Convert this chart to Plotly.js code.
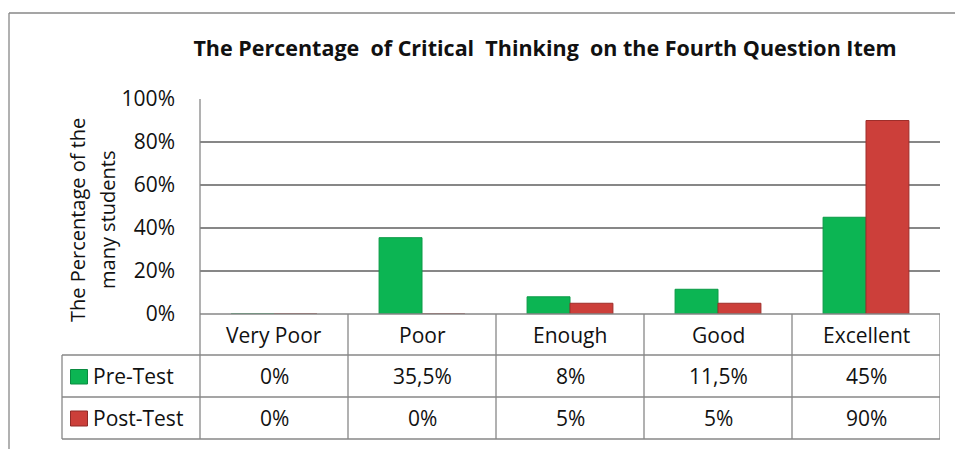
<!DOCTYPE html>
<html><head><meta charset="utf-8">
<script src="https://cdn.plot.ly/plotly-3.0.1.min.js"></script>
<style>body{margin:0;background:#fff}#chart{width:955px;height:449px}</style>
</head><body><div id="chart"></div>
<script>
const categories = ['Very Poor', 'Poor', 'Enough', 'Good', 'Excellent'];
const preTest = [0, 35.5, 8, 11.5, 45];
const postTest = [0, 0, 5, 5, 90];
const preLabels = ['0%', '35,5%', '8%', '11,5%', '45%'];
const postLabels = ['0%', '0%', '5%', '5%', '90%'];
const seriesNames = ['Pre-Test', 'Post-Test'];
const yTicks = [0, 20, 40, 60, 80, 100];

const W = 955, H = 449;
const L = 200, R = 940, T = 99, B = 314;
const px = x => (x - L) / (R - L);
const py = y => (B - y) / (B - T);
const FONT = 'Open Sans, sans-serif';
const GRAY = '#878787';
const GREEN = '#0cb553', RED = '#cc3f3a';

const rows = [314, 355, 397, 439];
const shapes = [];
const line = (x0, y0, x1, y1) => shapes.push({type:'line', xref:'paper', yref:'paper', x0, y0, x1, y1, line:{color:GRAY, width:1.3}});
// outer frame (cut off at right and bottom)
line(px(9), py(13), px(W + 5), py(13));
line(px(9), py(13), px(9), py(H + 5));
// table horizontals
line(0, py(314), 1, py(314));
for (let i = 1; i < rows.length; i++) line(px(62), py(rows[i]), 1, py(rows[i]));
// table verticals
line(px(62), py(355), px(62), py(439));
line(0, py(99), 0, py(439));
for (let c = 0; c < categories.length; c++) {
  shapes.push({type:'line', xref:'x', yref:'paper', x0:c + 0.5, x1:c + 0.5, y0:py(314), y1:py(439), line:{color:GRAY, width:1.3}});
}
// legend keys
shapes.push({type:'rect', xref:'paper', yref:'paper', x0:px(70.5), x1:px(87.5), y0:py(369.5), y1:py(384), fillcolor:GREEN, line:{color:'#0a8a40', width:1}});
shapes.push({type:'rect', xref:'paper', yref:'paper', x0:px(70.5), x1:px(87.5), y0:py(411), y1:py(426), fillcolor:RED, line:{color:'#8f2a27', width:1}});

const annotations = [];
const tf = {family: FONT, size: 21, color: '#111'};
const rowCenters = [334.5, 376, 418];
const cell = (xref, x, y, text, xanchor) => annotations.push({xref, yref:'paper', x, y, text, showarrow:false, font:tf, xanchor, yanchor:'middle'});
categories.forEach((c, i) => {
  cell('x', i, py(rowCenters[0]), c, 'center');
  cell('x', i, py(rowCenters[1]), preLabels[i], 'center');
  cell('x', i, py(rowCenters[2]), postLabels[i], 'center');
});
cell('paper', px(91), py(rowCenters[1]), seriesNames[0], 'left');
cell('paper', px(91), py(rowCenters[2]), seriesNames[1], 'left');
// y axis title (two lines)
const yTitle = ['The Percentage of the', 'many students'];
const yTitleX = [77, 107];
yTitle.forEach((t, i) => annotations.push({xref:'paper', yref:'paper', x:px(yTitleX[i]), y:py(220), text:t, showarrow:false, textangle:-90, font:{family:FONT, size:20, color:'#111'}, xanchor:'center', yanchor:'middle'}));

const data = [
  {type:'bar', name:seriesNames[0], x:categories, y:preTest, marker:{color:GREEN, line:{color:'#0a9a46', width:1}}},
  {type:'bar', name:seriesNames[1], x:categories, y:postTest, marker:{color:RED, line:{color:'#9e2e2a', width:1}}}
];

const layout = {
  width: W, height: H,
  margin: {l: L, r: W - R, t: T, b: H - B, pad: 0},
  paper_bgcolor: '#fff', plot_bgcolor: '#fff',
  showlegend: false,
  barmode: 'group', bargap: 0.42, bargroupgap: 0,
  title: {text: '<b>The Percentage  of Critical  Thinking  on the Fourth Question Item</b>', font: {family: FONT, size: 21.5, color: '#111'}, xref: 'container', yref: 'container', x: 545 / W, y: 1 - 48 / H, xanchor: 'center', yanchor: 'middle'},
  xaxis: {type: 'category', range: [-0.5, 4.5], showticklabels: false, showgrid: false, zeroline: false, showline: false, ticks: ''},
  yaxis: {range: [0, 100], tickvals: yTicks, ticktext: yTicks.map(v => v + '%'), showgrid: true, gridcolor: GRAY, gridwidth: 1.3, zeroline: false, showline: false, ticks: '', ticklabelstandoff: 24, tickfont: {family: FONT, size: 21, color: '#111'}},
  shapes, annotations
};
Plotly.newPlot('chart', data, layout, {displayModeBar: false, staticPlot: true});
</script></body></html>
